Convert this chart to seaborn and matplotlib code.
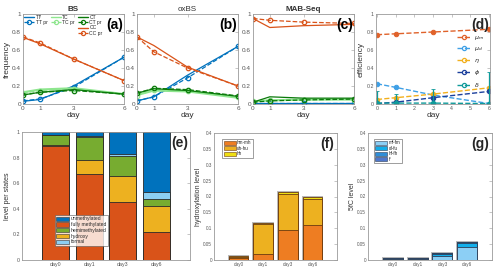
import numpy as np
import pandas as pd
import matplotlib
matplotlib.use('Agg')
import matplotlib.pyplot as plt
import seaborn as sns
from matplotlib.lines import Line2D
from matplotlib.patches import Patch
from matplotlib.ticker import FormatStrFormatter, FuncFormatter

sns.set_style('white')
plt.rcParams['font.family'] = ['Liberation Sans', 'DejaVu Sans']
plt.rcParams['mathtext.fontset'] = 'dejavusans'

# ---------------- data ----------------
days = [0, 1, 3, 6]
series_names = ['TT', 'TC', 'CT', 'CC']

# BS
bs_TT = [0.03, 0.05, 0.20, 0.52]
bs_TT_pr = [0.035, 0.055, 0.185, 0.52]
bs_TC = [0.13, 0.16, 0.175, 0.11]
bs_TC_pr = [0.12, 0.15, 0.17, 0.11]
bs_CT = [0.10, 0.13, 0.16, 0.11]
bs_CT_pr = [0.10, 0.13, 0.15, 0.11]
bs_CC = [0.74, 0.67, 0.50, 0.26]
bs_CC_pr = [0.745, 0.68, 0.50, 0.26]

# oxBS
ox_TT = [0.035, 0.08, 0.32, 0.64]
ox_TT_pr = [0.035, 0.08, 0.29, 0.64]
ox_TC = [0.10, 0.15, 0.14, 0.07]
ox_TC_pr = [0.09, 0.16, 0.15, 0.075]
ox_CT = [0.12, 0.17, 0.15, 0.085]
ox_CT_pr = [0.12, 0.175, 0.16, 0.09]
ox_CC = [0.745, 0.65, 0.41, 0.20]
ox_CC_pr = [0.745, 0.58, 0.40, 0.20]

# MAB-Seq
mab_TT = [0.01, 0.01, 0.01, 0.01]
mab_TT_pr = [0.01, 0.01, 0.01, 0.01]
mab_TC = [0.03, 0.04, 0.05, 0.05]
mab_TC_pr = [0.03, 0.04, 0.05, 0.05]
mab_CT = [0.02, 0.08, 0.065, 0.065]
mab_CT_pr = [0.02, 0.035, 0.045, 0.055]
mab_CC = [0.95, 0.85, 0.87, 0.885]
mab_CC_pr = [0.95, 0.93, 0.91, 0.895]

# efficiencies
eff_names = [r'$\mu_m$', r'$\mu_d$', r'$\eta$', r'$\phi$', r'$\delta$']
eff_mu_m = [0.77, 0.78, 0.80, 0.83]
eff_mu_d = [0.225, 0.185, 0.10, 0.005]
eff_eta = [0.05, 0.07, 0.11, 0.18]
eff_phi = [0.005, 0.02, 0.07, 0.14]
eff_delta = [0.01, 0.01, 0.01, 0.005]
eff_delta_err = [0.14, 0.10, 0.16, 0.355]

# level per states
day_labels = ['day0', 'day1', 'day3', 'day6']
st_fully = [0.89, 0.67, 0.45, 0.215]
st_hydroxy = [0.01, 0.115, 0.21, 0.205]
st_hemi = [0.08, 0.175, 0.15, 0.055]
st_formal = [0.0, 0.005, 0.02, 0.055]
st_unmeth = [0.02, 0.035, 0.17, 0.47]

# hydroxylation level
hy_hm_mh = [0.005, 0.018, 0.096, 0.111]
hy_uh_hu = [0.006, 0.096, 0.111, 0.080]
hy_hh = [0.0015, 0.003, 0.007, 0.006]

# 5fC level
fc_mf_fm = [0.003, 0.002, 0.012, 0.042]
fc_uf_fu = [0.001, 0.001, 0.006, 0.011]
fc_hf_fh = [0.002, 0.003, 0.003, 0.003]
fc_ff = [0.0005, 0.001, 0.001, 0.0005]

# ---------------- style ----------------
C_TT = '#0072BD'
C_TC = '#8EE68E'
C_CT = '#0A7A0A'
C_CC = '#D95319'
TICK_C = '#555555'
SPINE_C = '#9a9a9a'
W, H = 500, 275

fig = plt.figure(figsize=(5.0, 2.75), dpi=100)

def px_axes(x0, x1, y0, y1):
    return fig.add_axes([x0 / W, 1 - y1 / H, (x1 - x0) / W, (y1 - y0) / H])

def style_axes(ax, fs):
    for s in ax.spines.values():
        s.set_color(SPINE_C)
        s.set_linewidth(0.6)
    ax.tick_params(axis='both', which='both', direction='in', length=2, width=0.4,
                   colors=SPINE_C, labelcolor=TICK_C, labelsize=fs, pad=1.5,
                   top=True, right=True)

gfmt = FuncFormatter(lambda v, p: ('%g' % round(v, 4)))

def line_panel(ax, data, title, label, ylabel=None, legend=False):
    cols = [C_TT, C_TC, C_CT, C_CC]
    for (name, obs, pr), c in zip(data, cols):
        lw_s = 1.6 if name == 'TC' else 0.9
        sns.lineplot(x=days, y=obs, ax=ax, color=c, lw=lw_s, label=None)
        sns.lineplot(x=days, y=pr, ax=ax, color=c, lw=0.9, linestyle='--',
                     marker='o', markersize=3.2, markerfacecolor='none',
                     markeredgecolor=c, markeredgewidth=0.9, label=None,
                     dashes=(3, 2))
    ax.set_xlim(0, 6)
    ax.set_ylim(0, 1)
    ax.set_xticks(days)
    ax.set_yticks([0, 0.2, 0.4, 0.6, 0.8, 1.0])
    ax.yaxis.set_major_formatter(gfmt)
    style_axes(ax, 4.6)
    ax.set_xlabel('day', fontsize=6, color='#333333', labelpad=1)
    if ylabel:
        ax.set_ylabel(ylabel, fontsize=6, color='#333333', labelpad=1)
    ax.set_title(title, fontsize=5.8, fontweight='bold', color='#333333', pad=2)
    ax.text(0.99, 0.96, label, transform=ax.transAxes, ha='right', va='top',
            fontsize=10, fontweight='bold', color='black')
    if ax.get_legend() is not None:
        ax.get_legend().remove()
    if legend:
        blank = Line2D([], [], color='none')
        hs, ls = [], []
        groups = [[0, 1, None, None], [2, 3, None, None], [4, 5, 6, 7]]
        allh = []
        alll = []
        for (name, _, _), c in zip(data, cols):
            allh.append(Line2D([], [], color=c, lw=1.0))
            alll.append(name)
            allh.append(Line2D([], [], color=c, lw=0.9, ls='--', marker='o', ms=3,
                               mfc='none', mec=c, mew=0.9))
            alll.append(name + ' pr')
        for g in groups:
            for i in g:
                if i is None:
                    hs.append(blank); ls.append('')
                else:
                    hs.append(allh[i]); ls.append(alll[i])
        ax.legend(hs, ls, ncol=3, loc='upper left', bbox_to_anchor=(-0.02, 1.03),
                  fontsize=3.6, frameon=False, handlelength=2.0, handletextpad=0.3,
                  columnspacing=0.6, labelspacing=0.05, borderpad=0.2)

ax_a = px_axes(23, 124, 14, 104)
line_panel(ax_a, [('TT', bs_TT, bs_TT_pr), ('TC', bs_TC, bs_TC_pr),
                  ('CT', bs_CT, bs_CT_pr), ('CC', bs_CC, bs_CC_pr)],
           'BS', '(a)', ylabel='frequency', legend=True)
ax_b = px_axes(137, 238, 14, 104)
line_panel(ax_b, [('TT', ox_TT, ox_TT_pr), ('TC', ox_TC, ox_TC_pr),
                  ('CT', ox_CT, ox_CT_pr), ('CC', ox_CC, ox_CC_pr)],
           'oxBS', '(b)')
ax_b.title.set_fontweight('normal')
ax_c = px_axes(253, 354, 14, 104)
line_panel(ax_c, [('TT', mab_TT, mab_TT_pr), ('TC', mab_TC, mab_TC_pr),
                  ('CT', mab_CT, mab_CT_pr), ('CC', mab_CC, mab_CC_pr)],
           'MAB-Seq', '(c)')

# ---- panel d
ax_d = px_axes(376, 490, 14, 104)
eff_cols = ['#E0622A', '#3FA0E6', '#F2B01E', '#1B3F9C', '#0F9A9A']
eff_vals = [eff_mu_m, eff_mu_d, eff_eta, eff_phi, eff_delta]
for v, c in zip(eff_vals, eff_cols):
    sns.lineplot(x=days, y=v, ax=ax_d, color=c, lw=1.0, linestyle='--',
                 marker='o', markersize=3.2, markerfacecolor=c, markeredgecolor=c,
                 dashes=(3, 2.2), label=None)
ax_d.errorbar(days, eff_delta, yerr=[np.zeros(len(days)), eff_delta_err],
              fmt='none', ecolor=eff_cols[4], elinewidth=0.9, capsize=1.5, capthick=0.6)
ax_d.set_xlim(-0.05, 6.05)
ax_d.set_ylim(0, 1)
ax_d.set_xticks(range(7))
ax_d.set_yticks([0, 0.2, 0.4, 0.6, 0.8, 1.0])
ax_d.yaxis.set_major_formatter(gfmt)
style_axes(ax_d, 3.8)
ax_d.set_xlabel('day', fontsize=6, color='#333333', labelpad=1)
ax_d.set_ylabel('efficiency', fontsize=6, color='#333333', labelpad=1)
ax_d.text(0.99, 0.96, '(d)', transform=ax_d.transAxes, ha='right', va='top',
          fontsize=10, fontweight='bold')
if ax_d.get_legend() is not None:
    ax_d.get_legend().remove()
dh = [Line2D([], [], color=c, lw=1.0, ls='--', marker='o', ms=3, mfc='none', mec=c, mew=0.9)
      for c in eff_cols]
ax_d.legend(dh, eff_names, loc='upper left', bbox_to_anchor=(0.68, 0.82), fontsize=4.5,
            frameon=False, handlelength=2.2, handletextpad=0.4, labelspacing=0.55,
            borderpad=0.1)

# ---- stacked bar helper
def stacked(ax, layers, colors, edge, outer=None):
    cum = np.cumsum(np.array(layers), axis=0)
    n = len(layers)
    if outer is not None:
        sns.barplot(x=day_labels, y=cum[-1], ax=ax, color=colors[-1], saturation=1,
                    edgecolor=outer, linewidth=1.4, errorbar=None, width=0.8)
    for i in range(n - 1, -1, -1):
        sns.barplot(x=day_labels, y=cum[i], ax=ax, color=colors[i], saturation=1,
                    edgecolor=edge, linewidth=0.6, errorbar=None, width=0.8)
    ax.set_xlim(-1, 4)

# ---- panel e
ax_e = px_axes(22, 190, 132, 260)
e_layers = [st_fully, st_hydroxy, st_hemi, st_formal, st_unmeth]
e_cols = ['#D95319', '#EDB120', '#77AC30', '#8CCFF2', '#0072BD']
stacked(ax_e, e_layers, e_cols, '#2a2a2a')
ax_e.set_ylim(0, 1)
ax_e.set_yticks([0, 0.2, 0.4, 0.6, 0.8, 1.0])
ax_e.yaxis.set_major_formatter(gfmt)
style_axes(ax_e, 3.8)
ax_e.tick_params(axis='x', length=0)
ax_e.set_xlabel('')
ax_e.set_ylabel('level per states', fontsize=5, color='#333333', labelpad=1)
ax_e.text(0.99, 0.97, '(e)', transform=ax_e.transAxes, ha='right', va='top',
          fontsize=10, fontweight='bold')
eh = [Patch(facecolor=e_cols[4], edgecolor='#333333', lw=0.4),
      Patch(facecolor=e_cols[0], edgecolor='#333333', lw=0.4),
      Patch(facecolor=e_cols[2], edgecolor='#333333', lw=0.4),
      Patch(facecolor=e_cols[1], edgecolor='#333333', lw=0.4),
      Patch(facecolor=e_cols[3], edgecolor='#333333', lw=0.4)]
leg = ax_e.legend(eh, ['unmethylated', 'fully methylated', 'hemimethylated', 'hydroxy', 'formal'],
                  loc='lower left', bbox_to_anchor=(0.18, 0.09), fontsize=3.6,
                  frameon=True, fancybox=False, handlelength=2.6, handleheight=0.9,
                  handletextpad=0.3, labelspacing=0.15, borderpad=0.3)
leg.get_frame().set_edgecolor('#555555')
leg.get_frame().set_linewidth(0.5)

# ---- panel f
ax_f = px_axes(214, 337, 133, 260)
f_layers = [hy_hm_mh, hy_uh_hu, hy_hh]
f_cols = ['#EE7D22', '#EDB120', '#EFDF12']
stacked(ax_f, f_layers, f_cols, '#6B3A10', outer='#B8B8B8')
ax_f.set_ylim(0, 0.4)
ax_f.set_yticks(np.arange(0, 0.41, 0.05))
ax_f.yaxis.set_major_formatter(gfmt)
style_axes(ax_f, 3.3)
ax_f.tick_params(axis='x', length=0)
ax_f.set_xlabel('')
ax_f.set_ylabel('hydroxylation level', fontsize=5, color='#333333', labelpad=1)
ax_f.text(0.98, 0.97, '(f)', transform=ax_f.transAxes, ha='right', va='top',
          fontsize=10, fontweight='bold')
fh = [Patch(facecolor=c, edgecolor='#6B3A10', lw=0.4) for c in f_cols]
leg = ax_f.legend(fh, ['hm-mh', 'uh-hu', 'hh'], loc='upper left',
                  bbox_to_anchor=(0.05, 0.97), fontsize=3.3, frameon=True, fancybox=False,
                  handlelength=2.6, handleheight=0.9, handletextpad=0.3,
                  labelspacing=0.1, borderpad=0.3)
leg.get_frame().set_edgecolor('#555555')
leg.get_frame().set_linewidth(0.5)

# ---- panel g
ax_g = px_axes(368, 492, 133, 260)
g_layers = [fc_mf_fm, fc_uf_fu, fc_hf_fh, fc_ff]
g_cols = ['#8CCFF5', '#12AEEA', '#2F8ED8', '#4F78CC']
stacked(ax_g, g_layers, g_cols, '#2D3D55', outer='#B8B8B8')
ax_g.set_ylim(0, 0.4)
ax_g.set_yticks(np.arange(0, 0.41, 0.05))
ax_g.yaxis.set_major_formatter(gfmt)
style_axes(ax_g, 3.3)
ax_g.tick_params(axis='x', length=0)
ax_g.set_xlabel('')
ax_g.set_ylabel('5fC level', fontsize=5, color='#333333', labelpad=1)
ax_g.text(0.98, 0.97, '(g)', transform=ax_g.transAxes, ha='right', va='top',
          fontsize=10, fontweight='bold')
gh = [Patch(facecolor=c, edgecolor='#2D3D55', lw=0.4) for c in g_cols]
leg = ax_g.legend(gh, ['mf-fm', 'uf-fu', 'hf-fh', 'ff'], loc='upper left',
                  bbox_to_anchor=(0.03, 0.97), fontsize=3.3, frameon=True, fancybox=False,
                  handlelength=2.6, handleheight=0.9, handletextpad=0.3,
                  labelspacing=0.1, borderpad=0.3)
leg.get_frame().set_edgecolor('#555555')
leg.get_frame().set_linewidth(0.5)

fig.savefig('out.png', dpi=100)
